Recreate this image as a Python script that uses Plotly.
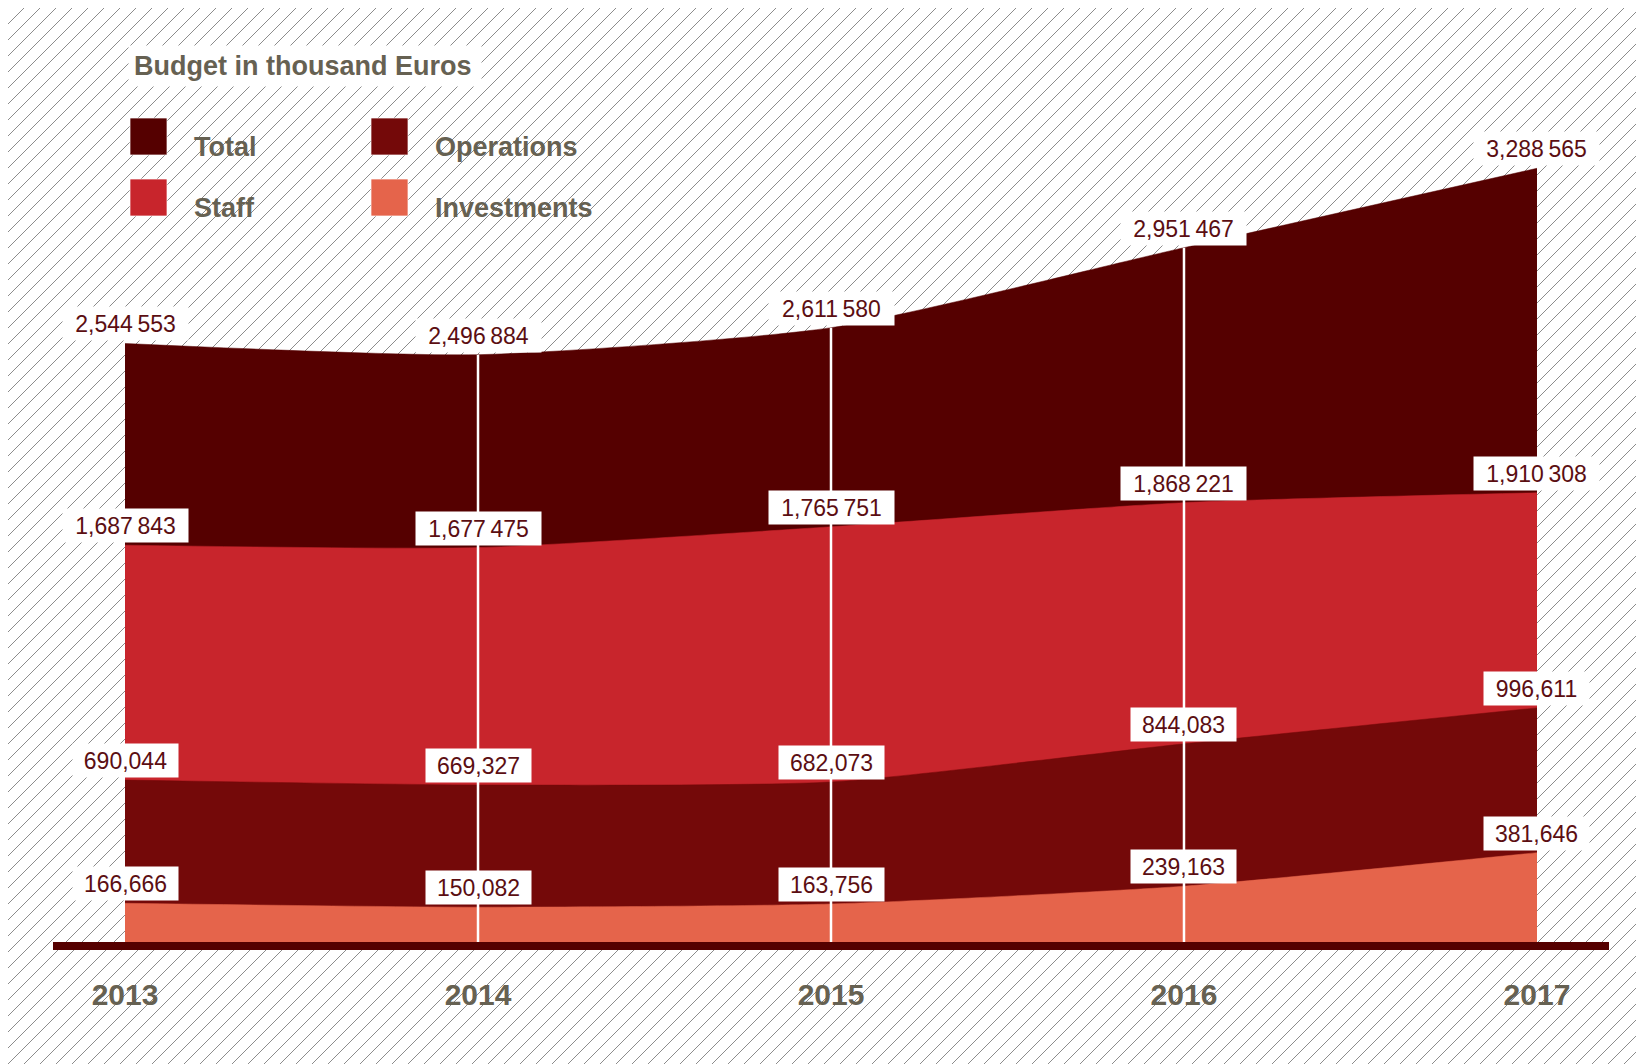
import base64
import plotly.graph_objects as go

W, H = 1644, 1064
OFF = 8  # page margin around the plot div

years = [2013, 2014, 2015, 2016, 2017]
total = [2544553, 2496884, 2611580, 2951467, 3288565]
staff = [1687843, 1677475, 1765751, 1868221, 1910308]
operations = [690044, 669327, 682073, 844083, 996611]
investments = [166666, 150082, 163756, 239163, 381646]

series = [
    ("Total", total, "#550000"),
    ("Staff", staff, "#c8252c"),
    ("Operations", operations, "#740909"),
    ("Investments", investments, "#e5644b"),
]

TEXT_RED = "#5b0e12"
GREY = "#666152"


def fmt(v):
    if v >= 1_000_000:
        return f"{v // 1_000_000},{v // 1000 % 1000:03d}\u2009{v % 1000:03d}"
    return f"{v:,}"


def px(x):
    return (x - OFF) / W


def py(y):
    return 1 - (y - OFF) / H


# hatched backdrop
svg = (
    f"<svg xmlns='http://www.w3.org/2000/svg' width='{W}' height='{H}'>"
    "<defs><pattern id='h' width='16' height='16' patternUnits='userSpaceOnUse'>"
    "<path d='M-4,4 L4,-4 M0,16 L16,0 M12,20 L20,12' stroke='#8c8c8c' stroke-width='1'/>"
    "</pattern></defs>"
    f"<rect width='{W}' height='{H}' fill='white'/>"
    f"<rect width='{W}' height='{H}' fill='url(#h)'/></svg>"
)
hatch = "data:image/svg+xml;base64," + base64.b64encode(svg.encode()).decode()

fig = go.Figure()
for name, vals, col in series:
    fig.add_trace(
        go.Scatter(
            x=years,
            y=vals,
            name=name,
            mode="lines",
            fill="tozeroy",
            fillcolor=col,
            line=dict(color=col, width=0.5, shape="spline", smoothing=0.6),
            hoverinfo="skip",
            showlegend=False,
        )
    )

# white year markers
vx, vy = [], []
for yr, t in zip(years[1:4], total[1:4]):
    vx += [yr, yr, None]
    vy += [0, t, None]
fig.add_trace(
    go.Scatter(
        x=vx, y=vy, mode="lines", line=dict(color="white", width=2.5),
        hoverinfo="skip", showlegend=False,
    )
)

annotations = []
for name, vals, col in series:
    for yr, v in zip(years, vals):
        txt = fmt(v)
        annotations.append(
            dict(
                x=yr, y=v, xref="x", yref="y", text=txt, showarrow=False,
                xanchor="center", yanchor="bottom", yshift=2,
                width=119 if len(txt) > 7 else 99, height=27,
                bgcolor="white", borderpad=3,
                font=dict(family="Liberation Sans, Arial", size=23, color=TEXT_RED),
            )
        )

# legend block
annotations.append(
    dict(
        x=px(128), y=py(66), xref="paper", yref="paper", text="Budget in thousand Euros",
        showarrow=False, xanchor="left", yanchor="middle", align="left",
        width=342, height=30, borderpad=5, bgcolor="white",
        font=dict(family="Liberation Sans, Arial", size=27, color=GREY, weight="bold"),
    )
)
legend_items = [
    ("Total", "#550000", 130, 118),
    ("Operations", "#740909", 371, 118),
    ("Staff", "#c8252c", 130, 179),
    ("Investments", "#e5644b", 371, 179),
]
shapes = []
for label, col, lx, ly in legend_items:
    shapes.append(
        dict(
            type="rect", xref="paper", yref="paper",
            x0=px(lx), x1=px(lx + 37), y0=py(ly + 37), y1=py(ly),
            fillcolor=col, line=dict(color="rgba(255,255,255,0.7)", width=1),
        )
    )
    annotations.append(
        dict(
            x=px(lx + 62), y=py(ly + 29), xref="paper", yref="paper", text=label,
            showarrow=False, xanchor="left", yanchor="middle",
            font=dict(family="Liberation Sans, Arial", size=27, color=GREY, weight="bold"),
        )
    )

# baseline
shapes.append(
    dict(
        type="rect", xref="paper", yref="paper", layer="above",
        x0=px(53), x1=px(1609), y0=py(950), y1=py(942),
        fillcolor="#550000", line=dict(width=0),
    )
)

fig.update_layout(
    width=W,
    height=H,
    margin=dict(l=0, r=0, t=0, b=0),
    paper_bgcolor="white",
    plot_bgcolor="rgba(0,0,0,0)",
    images=[
        dict(
            source=hatch, xref="paper", yref="paper", x=0, y=1, sizex=1, sizey=1,
            xanchor="left", yanchor="top", sizing="stretch", layer="below",
        )
    ],
    shapes=shapes,
    annotations=annotations,
    xaxis=dict(
        domain=[px(53), px(1609)],
        range=[2012.796, 2017.204],
        tickvals=years,
        ticktext=[str(y) for y in years],
        tickfont=dict(family="Liberation Sans, Arial", size=30, color=GREY, weight="bold"),
        ticklabelstandoff=31,
        showgrid=False,
        zeroline=False,
        showline=False,
        ticks="",
        automargin=False,
        fixedrange=True,
    ),
    yaxis=dict(
        domain=[py(942.5), py(10)],
        range=[0, 3961000],
        visible=False,
        showgrid=False,
        zeroline=False,
        automargin=False,
        fixedrange=True,
    ),
    showlegend=False,
)

fig.write_html("out.html")
